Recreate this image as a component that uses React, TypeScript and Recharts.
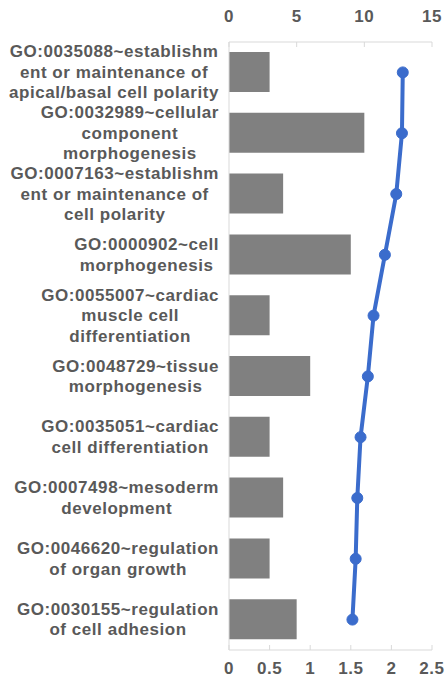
import { ComposedChart, Bar, Line, XAxis, YAxis } from 'recharts';

const categories = [
  'GO:0035088~establishm\nent or maintenance of\napical/basal cell polarity',
  'GO:0032989~cellular\ncomponent\nmorphogenesis',
  'GO:0007163~establishm\nent or maintenance of\ncell polarity',
  'GO:0000902~cell\nmorphogenesis',
  'GO:0055007~cardiac\nmuscle cell\ndifferentiation',
  'GO:0048729~tissue\nmorphogenesis',
  'GO:0035051~cardiac\ncell differentiation',
  'GO:0007498~mesoderm\ndevelopment',
  'GO:0046620~regulation\nof organ growth',
  'GO:0030155~regulation\nof cell adhesion'
];
const counts = [3, 10, 4, 9, 3, 6, 3, 4, 3, 5];
const logP = [2.14, 2.13, 2.06, 1.92, 1.78, 1.71, 1.62, 1.58, 1.56, 1.52];
const countTicks = [0, 5, 10, 15];
const pTicks = [0, 0.5, 1, 1.5, 2, 2.5];

const data = categories.map((name, i) => ({ name, count: counts[i], logP: logP[i] }));

const TEXT = '#595959';
const FONT = "'Liberation Sans', Arial, sans-serif";
const FONT_SIZE = 17;
const SPACING = 0.55;

let ctx: CanvasRenderingContext2D | null = null;
const measure = (s: string) => {
  if (!ctx) ctx = document.createElement('canvas').getContext('2d');
  if (!ctx) return s.length * 9;
  ctx.font = `bold ${FONT_SIZE}px ${FONT}`;
  return ctx.measureText(s).width + s.length * SPACING;
};

const CategoryTick = ({ x, y, payload }: any) => {
  const lines = String(payload.value).split('\n');
  const maxW = Math.max(...lines.map(measure));
  const cx = x - 10 - maxW / 2;
  return (
    <text
      textAnchor="middle"
      fill={TEXT}
      fontFamily={FONT}
      fontSize={FONT_SIZE}
      fontWeight="bold"
      letterSpacing={SPACING}
    >
      {lines.map((l, i) => (
        <tspan key={i} x={cx} y={y + (i - (lines.length - 1) / 2) * 20.5} dominantBaseline="central">
          {l}
        </tspan>
      ))}
    </text>
  );
};

const TopTick = ({ x, y, payload }: any) => (
  <g>
    <line x1={x} x2={x} y1={y} y2={y + 5} stroke="#d9d9d9" />
    <text x={x} y={y - 26} textAnchor="middle" dominantBaseline="central" fill={TEXT}
      fontFamily={FONT} fontSize={FONT_SIZE} fontWeight="bold" letterSpacing={SPACING}>
      {payload.value}
    </text>
  </g>
);

const BottomTick = ({ x, y, payload }: any) => (
  <g>
    <line x1={x} x2={x} y1={y} y2={y - 5} stroke="#d9d9d9" />
    <text x={x} y={y + 18} textAnchor="middle" dominantBaseline="central" fill={TEXT}
      fontFamily={FONT} fontSize={FONT_SIZE} fontWeight="bold" letterSpacing={SPACING}>
      {payload.value}
    </text>
  </g>
);

export default function App() {
  return (
    <div style={{ position: 'absolute', left: 0, top: 0, background: '#fff' }}>
      <ComposedChart
        width={447}
        height={681}
        data={data}
        layout="vertical"
        margin={{ top: 0, right: 15, bottom: 0, left: 0 }}
      >
        <XAxis
          xAxisId="count"
          type="number"
          orientation="top"
          domain={[0, 15]}
          ticks={countTicks}
          height={42}
          tickSize={0}
          tickMargin={0}
          tickLine={false}
          axisLine={{ stroke: '#d9d9d9' }}
          tick={<TopTick />}
          interval={0}
        />
        <XAxis
          xAxisId="p"
          type="number"
          orientation="bottom"
          domain={[0, 2.5]}
          ticks={pTicks}
          height={31}
          tickSize={0}
          tickMargin={0}
          tickLine={false}
          axisLine={{ stroke: '#d9d9d9' }}
          tick={<BottomTick />}
          interval={0}
        />
        <YAxis
          type="category"
          dataKey="name"
          width={229}
          tickSize={0}
          tickMargin={0}
          tickLine={false}
          axisLine={{ stroke: '#d9d9d9' }}
          tick={<CategoryTick />}
          interval={0}
        />
        <Bar xAxisId="count" dataKey="count" fill="#808080" barSize={40} isAnimationActive={false} />
        <Line
          xAxisId="p"
          dataKey="logP"
          stroke="#3b6ccc"
          strokeWidth={4}
          dot={{ r: 5.5, fill: '#3b6ccc', stroke: '#3b6ccc', strokeWidth: 1 }}
          isAnimationActive={false}
        />
      </ComposedChart>
    </div>
  );
}
